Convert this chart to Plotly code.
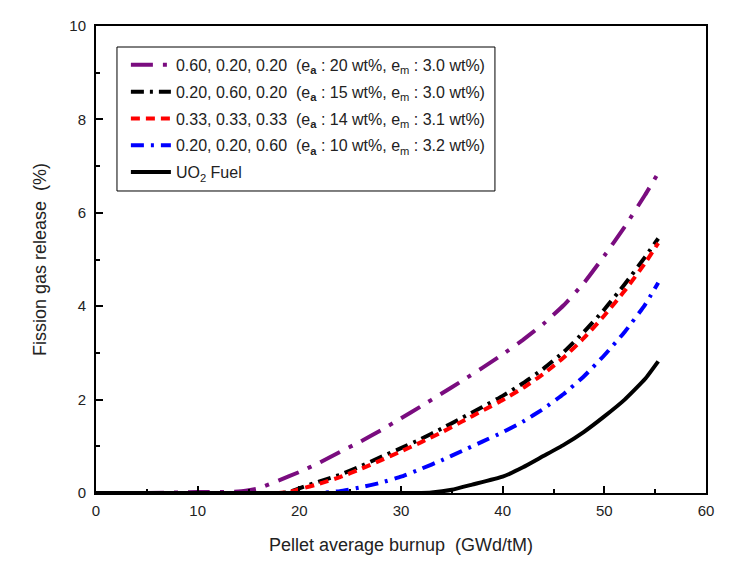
import plotly.graph_objects as go

# Purple: 0.60, 0.20, 0.20
x_p = [0, 5, 10, 14, 16, 18, 20, 22, 24, 26, 28, 30, 32, 34, 36, 38, 40, 42, 44, 46, 48, 50, 52, 54, 55.3]
y_p = [0, 0, 0.02, 0.03, 0.1, 0.27, 0.45, 0.65, 0.88, 1.1, 1.34, 1.6, 1.86, 2.13, 2.4, 2.68, 2.97, 3.28, 3.62, 4.02, 4.5, 5.08, 5.7, 6.38, 6.85]

# Black dash-dot: 0.20, 0.60, 0.20
x_k = [0, 5, 10, 15, 18, 19, 20, 22, 24, 26, 28, 30, 32, 34, 36, 38, 40, 42, 44, 46, 48, 50, 52, 54, 55.3]
y_k = [0, 0, 0, 0, 0, 0.02, 0.1, 0.25, 0.39, 0.57, 0.77, 0.96, 1.16, 1.38, 1.61, 1.84, 2.08, 2.35, 2.66, 3.02, 3.45, 3.93, 4.47, 5.05, 5.45]

# Red dashed: 0.33, 0.33, 0.33
x_r = [0, 5, 10, 15, 18, 19, 20, 22, 24, 26, 28, 30, 32, 34, 36, 38, 40, 42, 44, 46, 48, 50, 52, 54, 55.3]
y_r = [0, 0, 0, 0, 0, 0.02, 0.08, 0.2, 0.34, 0.51, 0.7, 0.89, 1.09, 1.3, 1.53, 1.76, 1.99, 2.25, 2.55, 2.9, 3.32, 3.8, 4.33, 4.92, 5.35]

# Blue dash-dot: 0.20, 0.20, 0.60
x_b = [0, 5, 10, 15, 20, 22, 24, 26, 28, 30, 32, 34, 36, 38, 40, 42, 44, 46, 48, 50, 52, 54, 55.3]
y_b = [0, 0, 0, 0, 0, 0, 0.04, 0.12, 0.22, 0.35, 0.52, 0.7, 0.9, 1.1, 1.3, 1.53, 1.8, 2.12, 2.5, 2.95, 3.45, 4.03, 4.5]

# UO2 fuel
x_u = [0, 10, 20, 30, 32, 33, 35, 37, 40, 42, 44, 46, 48, 50, 52, 54, 55.3]
y_u = [0, 0, 0, 0, 0, 0.01, 0.07, 0.18, 0.35, 0.55, 0.79, 1.03, 1.31, 1.64, 2.0, 2.44, 2.82]

NB = "\u00a0"
names = [
    f"0.60, 0.20, 0.20{NB}{NB}(e<sub><b>a</b></sub> : 20 wt%, e<sub>m</sub> : 3.0 wt%)",
    f"0.20, 0.60, 0.20{NB}{NB}(e<sub><b>a</b></sub> : 15 wt%, e<sub>m</sub> : 3.0 wt%)",
    f"0.33, 0.33, 0.33{NB}{NB}(e<sub><b>a</b></sub> : 14 wt%, e<sub>m</sub> : 3.1 wt%)",
    f"0.20, 0.20, 0.60{NB}{NB}(e<sub><b>a</b></sub> : 10 wt%, e<sub>m</sub> : 3.2 wt%)",
    "UO<sub>2</sub> Fuel",
]

fig = go.Figure()
series = [
    (x_p, y_p, "#7A0C7F", "22px,10px,4px,10px"),
    (x_k, y_k, "black", "13px,6px,3px,6px"),
    (x_r, y_r, "red", "9px,6px"),
    (x_b, y_b, "blue", "13px,7px,3px,7px"),
    (x_u, y_u, "black", "solid"),
]
for i, ((xs, ys, c, d), nm) in enumerate(zip(series, names)):
    fig.add_trace(go.Scatter(x=xs, y=ys, mode="lines", name=nm, legendgroup=f"g{i}",
                             line=dict(color=c, width=4, dash=d, shape="spline", smoothing=0.4)))

# legend frame (page sits 8px inside the window)
fig.add_shape(type="rect", xref="paper", yref="paper",
              x0=0.0344, x1=0.654, y0=0.6467, y1=0.955,
              line=dict(color="black", width=1), fillcolor="white", layer="below")

fig.update_layout(
    width=728, height=561,
    margin=dict(l=88, r=30, t=18, b=76),
    paper_bgcolor="white", plot_bgcolor="white",
    font=dict(family="Liberation Sans, Arial, sans-serif", size=15, color="#222"),
    showlegend=True,
    legend=dict(x=0.049, y=0.953, xanchor="left", yanchor="top",
                borderwidth=0, bgcolor="rgba(0,0,0,0)",
                traceorder="grouped", tracegroupgap=3, itemwidth=40,
                font=dict(size=16, color="#222")),
)
fig.update_xaxes(range=[0, 60], dtick=10, ticks="inside", ticklen=7, tickwidth=1.5,
                 tickcolor="black", showline=True, linewidth=2, linecolor="black",
                 mirror=True, showgrid=False, zeroline=False, automargin=False,
                 ticklabelstandoff=3,
                 minor=dict(dtick=5, ticks="inside", ticklen=4, tickcolor="black"),
                 title=dict(text="Pellet average burnup  (GWd/tM)", standoff=20))
fig.update_yaxes(range=[0, 10], dtick=2, ticks="inside", ticklen=7, tickwidth=1.5,
                 tickcolor="black", showline=True, linewidth=2, linecolor="black",
                 mirror=True, showgrid=False, zeroline=False, automargin=False,
                 ticklabelstandoff=5,
                 minor=dict(dtick=1, ticks="inside", ticklen=4, tickcolor="black"),
                 title=dict(text="Fission gas release  (%)", standoff=18))

fig.write_html("out.html")
